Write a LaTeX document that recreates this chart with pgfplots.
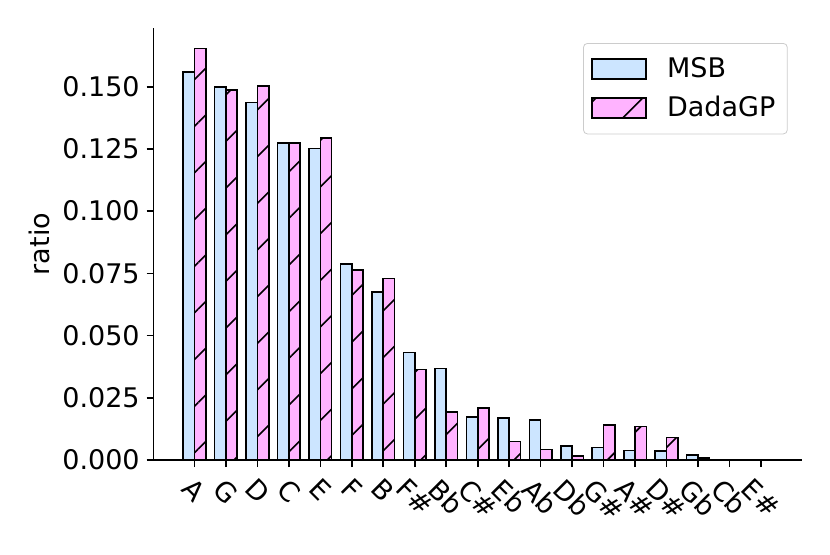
\documentclass[border=0pt]{standalone}
\usepackage{fontspec}
\setmainfont{DejaVu Sans}
\usepackage{pgfplots}
\pgfplotsset{compat=1.18}
\usepackage{pgfplotstable}
\usetikzlibrary{patterns.meta,calc}
\definecolor{msbBlue}{HTML}{CCE5FF}
\definecolor{dadaPink}{HTML}{FFB3FF}
\newcommand{\rl}[1]{\rotatebox{-45}{#1}}
\newcommand{\fs}{\fontsize{13.5}{16}\selectfont}
\pgfplotsset{barlegend/.style={legend image code/.code={%
  \draw[##1, sharp corners] (0pt,-5pt) rectangle (27pt,5pt);}}}

% key ratios
\pgfplotstableread{
key msb dada
A   0.1560 0.1653
G   0.1499 0.1488
D   0.1436 0.1504
C   0.1274 0.1274
E   0.1252 0.1293
F   0.0787 0.0763
B   0.0674 0.0729
Fs  0.0432 0.0363
Bb  0.0367 0.0192
Cs  0.0174 0.0210
Eb  0.0169 0.0075
Ab  0.0161 0.0043
Db  0.0056 0.0017
Gs  0.0050 0.0141
As  0.0039 0.0134
Ds  0.0036 0.0091
Gb  0.0021 0.0009
Cb  0.0002 0.0002
Es  0.0001 0.0001
}\keydata

\begin{document}
\begin{tikzpicture}
\begin{axis}[
  scale only axis, width=324pt, height=216pt,
  xmin=-1.296, xmax=19.296, ymin=0, ymax=0.1736,
  axis x line*=bottom, axis y line*=left,
  axis line style={-, line width=0.8pt},
  ybar, bar width=0.36,
  tick align=outside, major tick length=3.5pt,
  tick style={black, line width=0.8pt},
  xtick={0,...,18},
  xticklabels={\rl{A},\rl{G},\rl{D},\rl{C},\rl{E},\rl{F},\rl{B},\rl{F\#},\rl{Bb},\rl{C\#},\rl{Eb},\rl{Ab},\rl{Db},\rl{G\#},\rl{A\#},\rl{D\#},\rl{Gb},\rl{Cb},\rl{E\#}},
  xticklabel style={anchor=north, font=\fs, yshift=-1.5pt},
  ytick={0,0.025,0.05,0.075,0.1,0.125,0.15},
  yticklabel style={font=\fs, /pgf/number format/.cd, fixed, fixed zerofill, precision=3, assume math mode=true},
  ylabel={ratio},
  ylabel style={at={(axis description cs:-0.176,0.5)}, anchor=center, font=\fs},
  legend cell align=left,
  legend style={at={(1,1)}, anchor=north east, xshift=-7pt, yshift=-7.5pt,
    draw=black!20, rounded corners=2pt, font=\fs,
    inner xsep=4pt, inner ysep=5pt, row sep=4pt,
    /tikz/every odd column/.append style={column sep=8pt}},
]
\addplot[draw=black, line width=0.8pt, fill=msbBlue, bar shift=-0.18, barlegend]
  table[x expr=\coordindex, y=msb]{\keydata};
\addlegendentry{MSB}
\addplot[draw=black, line width=0.8pt, fill=dadaPink, bar shift=0.18, barlegend,
  postaction={pattern={Lines[angle=45,distance=16.5pt,line width=0.8pt]}, pattern color=black}]
  table[x expr=\coordindex, y=dada]{\keydata};
\addlegendentry{DadaGP}
\end{axis}
\path ($(current axis.south west)+(-76.85pt,-47pt)$) rectangle ($(current axis.north east)+(14.15pt,14pt)$);
\end{tikzpicture}
\end{document}
